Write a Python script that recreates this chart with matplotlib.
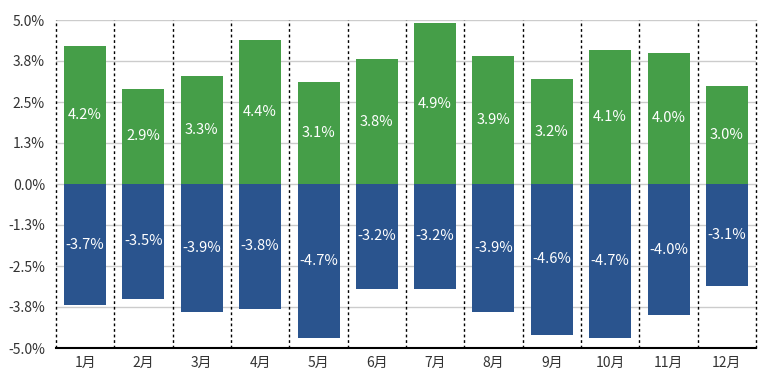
import numpy as np
from matplotlib import pyplot as plt

plt.rcParams['font.family'] = ['Noto Sans CJK JP', 'DejaVu Sans']

#% data
months = ['1月', '2月', '3月', '4月', '5月', '6月', '7月', '8月', '9月', '10月', '11月', '12月']
gains = [4.2, 2.9, 3.3, 4.4, 3.1, 3.8, 4.9, 3.9, 3.2, 4.1, 4.0, 3.0]
losses = [-3.7, -3.5, -3.9, -3.8, -4.7, -3.2, -3.2, -3.9, -4.6, -4.7, -4.0, -3.1]
yticks = [-5.0, -3.75, -2.5, -1.25, 0.0, 1.25, 2.5, 3.75, 5.0]
yticklabels = ['-5.0%', '-3.8%', '-2.5%', '-1.3%', '0.0%', '1.3%', '2.5%', '3.8%', '5.0%']

green = '#459e48'
blue = '#2a548e'

fig = plt.figure(figsize=(7.72, 3.83), dpi=100)
ax = fig.add_axes([56/772, 35/383, 700/772, 328/383])

x = np.arange(len(months))
w = 0.72
ax.bar(x, gains, w, color=green, zorder=3)
ax.bar(x, losses, w, color=blue, zorder=3)

for xi, g, l in zip(x, gains, losses):
    ax.text(xi, g/2, f'{g:.1f}%', ha='center', va='center', color='white', fontsize=10.5, zorder=4)
    ax.text(xi, l/2, f'{l:.1f}%', ha='center', va='center', color='white', fontsize=10.5, zorder=4)

# dotted separators between months (edges too)
for b in np.arange(-0.5, len(months), 1):
    ax.axvline(b, color='black', ls=(0, (2, 2)), lw=1, zorder=2, clip_on=False)

ax.set_xlim(-0.5, len(months)-0.5)
ax.set_ylim(-5, 5)
ax.set_yticks(yticks)
ax.set_yticklabels(yticklabels)
ax.set_xticks(x)
ax.set_xticklabels(months)
ax.grid(axis='y', color='#cccccc', lw=1, zorder=1)
for s in ['top', 'right', 'left']:
    ax.spines[s].set_visible(False)
ax.spines['bottom'].set_color('black')
ax.spines['bottom'].set_linewidth(1.5)
ax.spines['bottom'].set_zorder(5)
ax.tick_params(axis='both', length=0, labelsize=10, labelcolor='#333333')
ax.tick_params(axis='x', pad=6)
ax.tick_params(axis='y', pad=8)

fig.savefig('out.png', dpi=100)
